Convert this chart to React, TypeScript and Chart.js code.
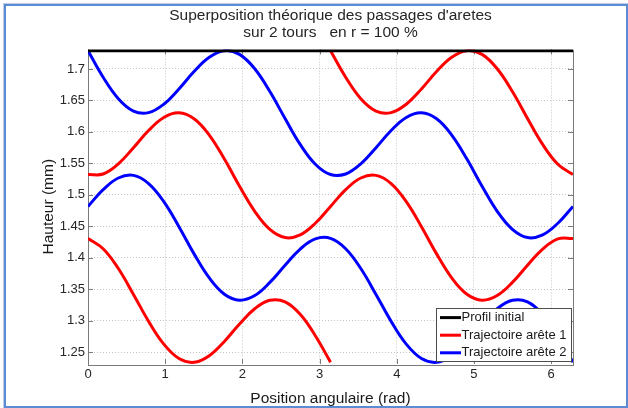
import { useEffect, useRef } from "react";
import { Chart, registerables } from "chart.js";

Chart.register(...registerables);

// Angular positions (rad) for one turn, step pi/16
const turnAngles = [
  0, 0.196, 0.393, 0.589, 0.785, 0.982, 1.178, 1.374, 1.571, 1.767, 1.963, 2.16,
  2.356, 2.553, 2.749, 2.945, 3.142, 3.338, 3.534, 3.731, 3.927, 4.123, 4.32,
  4.516, 4.712, 4.909, 5.105, 5.301, 5.498, 5.694, 5.89, 6.087, 6.283,
];
const halfTurnFirst = turnAngles.slice(0, 17); // 0 .. pi
const halfTurnSecond = turnAngles.slice(16); // pi .. 2pi

const profileAngles = [0, 6.2832];
const profileHeights = [1.73, 1.73];

// Trajectoire arête 2 (blue), first and second turn
const blueTurn1 = [
  1.729, 1.6869, 1.6528, 1.6331, 1.6306, 1.644, 1.6683, 1.696, 1.7187, 1.7292,
  1.7232, 1.7003, 1.6641, 1.6213, 1.5801, 1.5486, 1.5322, 1.5331, 1.5492, 1.5749,
  1.6022, 1.623, 1.6304, 1.6209, 1.595, 1.5568, 1.5136, 1.4738, 1.445, 1.432,
  1.4362, 1.4548, 1.4815,
];
const blueTurn2 = [
  1.4815, 1.5081, 1.5267, 1.5309, 1.5179, 1.4891, 1.4493, 1.4061, 1.3679, 1.342,
  1.3325, 1.3399, 1.3607, 1.388, 1.4137, 1.4298, 1.4307, 1.4143, 1.3828, 1.3416,
  1.2988, 1.2626, 1.2397, 1.2337, 1.2442, 1.2669, 1.2946, 1.3189, 1.3323, 1.3298,
  1.3101, 1.276, 1.2339,
];

// Trajectoire arête 1 (red): pi..2pi, then full turn, then 0..pi
const redPartA = [
  1.729, 1.6869, 1.6528, 1.6331, 1.6306, 1.644, 1.6683, 1.696, 1.7187, 1.7292,
  1.7232, 1.7003, 1.6641, 1.6213, 1.5801, 1.5486, 1.5322,
];
const redPartB = [
  1.5322, 1.5331, 1.5492, 1.5749, 1.6022, 1.623, 1.6304, 1.6209, 1.595, 1.5568,
  1.5136, 1.4738, 1.445, 1.432, 1.4362, 1.4548, 1.4815, 1.5081, 1.5267, 1.5309,
  1.5179, 1.4891, 1.4493, 1.4061, 1.3679, 1.342, 1.3325, 1.3399, 1.3607, 1.388,
  1.4137, 1.4298, 1.4307,
];
const redPartC = [
  1.4307, 1.4143, 1.3828, 1.3416, 1.2988, 1.2626, 1.2397, 1.2337, 1.2442, 1.2669,
  1.2946, 1.3189, 1.3323, 1.3298, 1.3101, 1.276, 1.2339,
];

const xTicks = [0, 1, 2, 3, 4, 5, 6];
const yTicks = [1.25, 1.3, 1.35, 1.4, 1.45, 1.5, 1.55, 1.6, 1.65, 1.7];
const xRange = [0, 6.2832];
const yRange = [1.231, 1.731];

const titleLines = [
  "Superposition théorique des passages d'aretes",
  "sur 2 tours   en r = 100 %",
];
const xLabel = "Position angulaire (rad)";
const yLabel = "Hauteur (mm)";
const legendLabels = ["Profil initial", "Trajectoire arête 1", "Trajectoire arête 2"];
const legendColors = ["#000000", "#ff0000", "#0000ff"];

const FONT = "'Liberation Sans', Arial, sans-serif";

const pts = (xs: number[], ys: number[]) => xs.map((x, i) => ({ x, y: ys[i] }));

const matlabPlugin = {
  id: "matlabDecor",
  beforeDatasetsDraw(chart: any) {
    const { ctx, chartArea: a, scales } = chart;
    ctx.save();
    ctx.strokeStyle = "#7a7a7a";
    ctx.lineWidth = 1;
    ctx.beginPath();
    const tl = 5;
    xTicks.forEach((v) => {
      const px = Math.round(scales.x.getPixelForValue(v)) + 0.5;
      ctx.moveTo(px, a.bottom);
      ctx.lineTo(px, a.bottom - tl);
      ctx.moveTo(px, a.top);
      ctx.lineTo(px, a.top + tl);
    });
    yTicks.forEach((v) => {
      const py = Math.round(scales.y.getPixelForValue(v)) + 0.5;
      ctx.moveTo(a.left, py);
      ctx.lineTo(a.left + tl, py);
      ctx.moveTo(a.right, py);
      ctx.lineTo(a.right - tl, py);
    });
    ctx.stroke();
    ctx.strokeRect(
      Math.round(a.left) + 0.5,
      Math.round(a.top) + 0.5,
      Math.round(a.right - a.left),
      Math.round(a.bottom - a.top)
    );
    ctx.restore();
  },
  afterDraw(chart: any) {
    const { ctx, chartArea: a } = chart;
    ctx.save();
    // Title
    ctx.fillStyle = "#262626";
    ctx.font = `15.5px ${FONT}`;
    ctx.textAlign = "center";
    ctx.textBaseline = "middle";
    const cx = (a.left + a.right) / 2;
    titleLines.forEach((t, i) => ctx.fillText(t, cx, 15.5 + i * 17.5));

    // Legend
    ctx.font = `13px ${FONT}`;
    const textW = Math.max(...legendLabels.map((l) => ctx.measureText(l).width));
    const rowH = 17.6;
    const boxW = Math.round(26 + textW + 4);
    const boxH = 53;
    const right = Math.round(a.right - 2.5);
    const bottom = Math.round(a.bottom - 3.5);
    const left = right - boxW;
    const top = bottom - boxH;
    ctx.fillStyle = "#ffffff";
    ctx.fillRect(left, top, boxW, boxH);
    ctx.strokeStyle = "#4d4d4d";
    ctx.lineWidth = 1;
    ctx.strokeRect(left + 0.5, top + 0.5, boxW, boxH);
    ctx.textAlign = "left";
    legendLabels.forEach((l, i) => {
      const y = top + 9.6 + i * rowH;
      ctx.strokeStyle = legendColors[i];
      ctx.lineWidth = 3;
      ctx.beginPath();
      ctx.moveTo(left + 4, y);
      ctx.lineTo(left + 25, y);
      ctx.stroke();
      ctx.fillStyle = "#1a1a1a";
      ctx.fillText(l, left + 25.5, y);
    });
    ctx.restore();
  },
};

export default function App() {
  const ref = useRef<HTMLCanvasElement | null>(null);

  useEffect(() => {
    if (!ref.current) return;
    const line = (label: string, data: any, color: string, width = 3) => ({
      label,
      data,
      borderColor: color,
      backgroundColor: color,
      borderWidth: width,
      pointRadius: 0,
      tension: 0.4,
      fill: false,
    });
    const chart = new Chart(ref.current, {
      type: "line",
      data: {
        datasets: [
          line(legendLabels[0], pts(profileAngles, profileHeights), "#000000", 4),
          line(legendLabels[2], pts(turnAngles, blueTurn1), "#0000ff"),
          line(legendLabels[2], pts(turnAngles, blueTurn2), "#0000ff"),
          line(legendLabels[1], pts(halfTurnSecond, redPartA), "#ff0000"),
          line(legendLabels[1], pts(turnAngles, redPartB), "#ff0000"),
          line(legendLabels[1], pts(halfTurnFirst, redPartC), "#ff0000"),
        ],
      },
      options: {
        animation: false,
        responsive: true,
        maintainAspectRatio: false,
        layout: { padding: { top: 49.5, right: 55, bottom: 0, left: 0 } },
        plugins: {
          legend: { display: false },
          title: { display: false },
          tooltip: { enabled: false },
        },
        scales: {
          x: {
            type: "linear",
            min: xRange[0],
            max: xRange[1],
            afterBuildTicks: (s: any) => {
              s.ticks = xTicks.map((v) => ({ value: v }));
            },
            afterFit: (s: any) => {
              s.height = 44;
            },
            ticks: {
              padding: 3,
              color: "#262626",
              font: { family: FONT, size: 13 },
              callback: (v: any) => String(v),
              maxRotation: 0,
              autoSkip: false,
            },
            grid: { color: "#c4c4c4", lineWidth: 1, drawTicks: false },
            border: { display: false, dash: [1, 2] },
            title: {
              display: true,
              text: xLabel,
              color: "#1a1a1a",
              font: { family: FONT, size: 15.5 },
              padding: { top: 8.7, bottom: 0 },
            },
          },
          y: {
            type: "linear",
            min: yRange[0],
            max: yRange[1],
            afterBuildTicks: (s: any) => {
              s.ticks = yTicks.map((v) => ({ value: v }));
            },
            afterFit: (s: any) => {
              s.width = 88;
            },
            ticks: {
              padding: 3,
              color: "#262626",
              font: { family: FONT, size: 13 },
              callback: (v: any) => String(Number(Number(v).toFixed(2))),
              autoSkip: false,
            },
            grid: { color: "#c4c4c4", lineWidth: 1, drawTicks: false },
            border: { display: false, dash: [1, 2] },
            title: {
              display: true,
              text: yLabel,
              color: "#1a1a1a",
              font: { family: FONT, size: 15.5 },
              padding: { top: 39, bottom: 0 },
            },
          },
        },
      },
      plugins: [matlabPlugin],
    });
    return () => chart.destroy();
  }, []);

  return (
    <div
      style={{
        position: "fixed",
        left: 0,
        top: 0,
        width: 628,
        height: 408,
        background: "#ffffff",
      }}
    >
      <div
        style={{
          position: "absolute",
          left: 4,
          top: 4,
          width: 620,
          height: 400,
          border: "2px solid #5b8bd2",
          boxShadow: "0 0 0 1px #b9cdea",
          pointerEvents: "none",
          zIndex: 2,
        }}
      />
      <div style={{ position: "absolute", left: 0, top: 0, width: 628, height: 408 }}>
        <canvas ref={ref} />
      </div>
    </div>
  );
}
